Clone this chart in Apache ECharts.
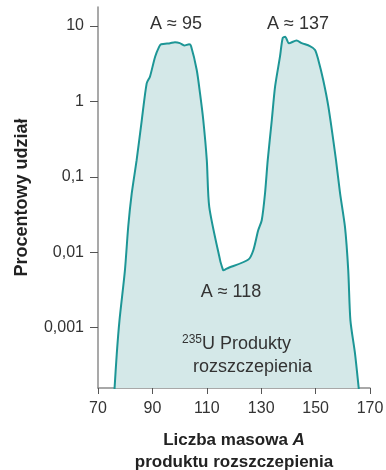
<!DOCTYPE html>
<html>
<head>
<meta charset="utf-8">
<script src="https://cdn.jsdelivr.net/npm/echarts@6/dist/echarts.min.js"></script>
<style>
html,body{margin:0;padding:0;background:#fff;}
#main{width:386px;height:470px;}
</style>
</head>
<body>
<div id="main"></div>
<script>
// Mass number A of fission product
var massNumbers = [76.0, 76.9, 77.9, 79.9, 81.1, 82.4, 84.2, 86.1, 87.9, 89.1, 91.0, 92.5, 93.2, 96.5, 98.3, 100.1, 101.7, 103.5, 104.2, 106.3, 107.5, 108.7, 110.0, 110.9, 114.9, 115.8, 116.1, 117.3, 125.3, 127.1, 128.9, 130.2, 131.4, 132.4, 133.9, 135.1, 136.9, 137.9, 138.8, 140.2, 143.0, 144.9, 147.9, 149.8, 151.0, 152.8, 154.7, 157.5, 159.0, 160.8, 162.0, 162.8, 164.5, 166.0];
// Percentage yield (%)
var yieldPercent = [0.00014, 0.00045, 0.00125, 0.00575, 0.0216, 0.06, 0.166, 0.565, 1.73, 2.12, 3.9, 5.3, 5.7, 5.9, 6.07, 5.9, 5.5, 5.7, 5.4, 2.6, 1.28, 0.565, 0.166, 0.04, 0.0078, 0.00605, 0.00575, 0.00605, 0.008, 0.0106, 0.0195, 0.0265, 0.06, 0.166, 0.565, 1.56, 3.9, 6.9, 7.2, 5.87, 6.4, 5.9, 5.4, 4.8, 3.53, 1.92, 0.85, 0.166, 0.06, 0.0216, 0.00575, 0.00125, 0.00045, 0.00014];
// Axis tick values and labels
var xTicks = [70, 90, 110, 130, 150, 170];
var yTickValues = [0.001, 0.01, 0.1, 1, 10];
var yTickLabels = ['0,001', '0,01', '0,1', '1', '10'];

var seriesData = massNumbers.map(function (a, i) { return [a, yieldPercent[i]]; });

function yLabel(v) {
  for (var i = 0; i < yTickValues.length; i++) {
    if (Math.abs(v - yTickValues[i]) / yTickValues[i] < 1e-6) return yTickLabels[i];
  }
  return '';
}

var chart = echarts.init(document.getElementById('main'), null, {renderer: 'canvas'});
var font = 'Liberation Sans, Arial, sans-serif';
var option = {
  animation: false,
  backgroundColor: '#ffffff',
  grid: {left: 98, right: 16, top: 7, bottom: 82, containLabel: false, outerBoundsMode: 'none'},
  xAxis: {
    type: 'value',
    min: xTicks[0], max: xTicks[xTicks.length - 1], interval: 20,
    splitLine: {show: false},
    axisLine: {show: true, lineStyle: {color: '#8c8c8c', width: 1.5}},
    axisTick: {show: true, length: 6, lineStyle: {color: '#555', width: 1}},
    axisLabel: {color: '#333', fontSize: 16, fontFamily: font, margin: 13},
    name: 'Liczba masowa {i|A}\nproduktu rozszczepienia',
    nameLocation: 'middle',
    nameGap: 41,
    nameTextStyle: {
      color: '#222', fontSize: 17, fontWeight: 'bold', fontFamily: font, lineHeight: 22,
      rich: {i: {fontStyle: 'italic', fontWeight: 'bold', fontSize: 17, fontFamily: font, color: '#222'}}
    }
  },
  yAxis: {
    type: 'log',
    logBase: 10,
    min: Math.pow(10, -3.8),
    max: Math.pow(10, 1.25),
    splitLine: {show: false},
    axisLine: {show: true, lineStyle: {color: '#8c8c8c', width: 1.5}},
    axisTick: {show: true, length: 8, lineStyle: {color: '#555', width: 1}, customValues: yTickValues},
    axisLabel: {color: '#333', fontSize: 16, fontFamily: font, margin: 14, formatter: yLabel, customValues: yTickValues},
    name: 'Procentowy udział',
    nameLocation: 'middle',
    nameGap: 67,
    nameTextStyle: {color: '#222', fontSize: 18, fontWeight: 'bold', fontFamily: font}
  },
  series: [{
    type: 'line',
    data: seriesData,
    smooth: 0.25,
    showSymbol: false,
    clip: true,
    lineStyle: {color: '#1d9696', width: 2},
    areaStyle: {color: '#d4e8e8', opacity: 1},
    z: 2
  }],
  graphic: [
    {type: 'text', z: 100, x: 176, y: 24, style: {text: 'A ≈ 95', fontSize: 18, fontFamily: font, fill: '#333', align: 'center', verticalAlign: 'middle'}},
    {type: 'text', z: 100, x: 298, y: 24, style: {text: 'A ≈ 137', fontSize: 18, fontFamily: font, fill: '#333', align: 'center', verticalAlign: 'middle'}},
    {type: 'text', z: 100, x: 231, y: 292, style: {text: 'A ≈ 118', fontSize: 18, fontFamily: font, fill: '#333', align: 'center', verticalAlign: 'middle'}},
    {type: 'text', z: 100, x: 182, y: 344, style: {
      text: '{s|235}U Produkty', fontSize: 18, fontFamily: font, fill: '#333', align: 'left', verticalAlign: 'middle',
      rich: {s: {fontSize: 12, fontFamily: font, fill: '#333', verticalAlign: 'top', padding: [0, 0, 9, 0]}}
    }},
    {type: 'text', z: 100, x: 193, y: 367, style: {text: 'rozszczepienia', fontSize: 18, fontFamily: font, fill: '#333', align: 'left', verticalAlign: 'middle'}}
  ]
};
chart.setOption(option);
</script>
</body>
</html>
